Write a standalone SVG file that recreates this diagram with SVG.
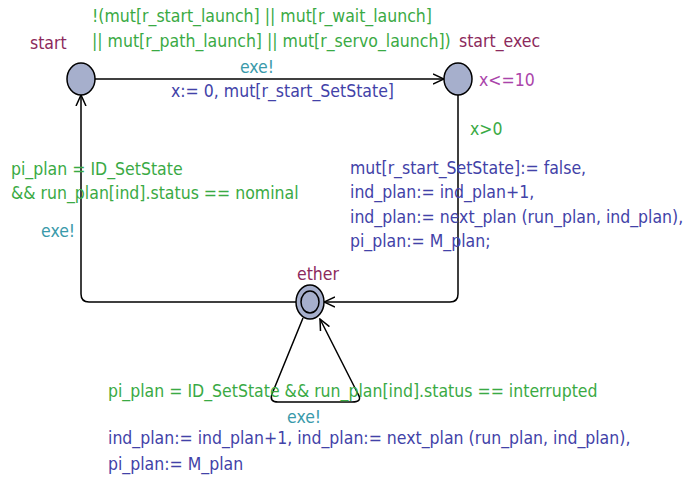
<svg xmlns="http://www.w3.org/2000/svg" width="688" height="482" viewBox="0 0 688 482">
<defs>
<marker id="arr" viewBox="0 0 12 12" refX="11" refY="6" markerWidth="12" markerHeight="12" markerUnits="userSpaceOnUse" orient="auto">
<path d="M0,1 L11,6 L0,11" fill="none" stroke="#000" stroke-width="1.5"/>
</marker>
<style>
text{font-family:"DejaVu Sans Condensed","DejaVu Sans",sans-serif;font-size:17.5px}
.loc{fill:#8c2a5c}
.grd{fill:#3aaa44}
.syn{fill:#3a9aaa}
.asg{fill:#4242a8}
.inv{fill:#aa44aa}
.node{fill:#a6afcc;stroke:#000;stroke-width:1.5}
.edge{fill:none;stroke:#000;stroke-width:1.5}
</style>
</defs>
<rect width="688" height="482" fill="#fff"/>
<g id="connectors">
<line class="edge" x1="95" y1="79" x2="444" y2="79" marker-end="url(#arr)"/>
<path class="edge" d="M458,95 L458,294 Q458,302 450,302 L324,302" marker-end="url(#arr)"/>
<path class="edge" d="M296,302 L89,302 Q81,302 81,294 L81,95" marker-end="url(#arr)"/>
<path class="edge" d="M303,318 L272,394 Q269,402 278,402 L352,402 Q363,402 358,394 L320,319" marker-end="url(#arr)"/>
</g>
<g id="node-start">
<ellipse class="node" cx="81" cy="79" rx="14" ry="16"/>
<text class="loc" x="30" y="49">start</text>
</g>
<g id="node-start_exec">
<ellipse class="node" cx="458" cy="79" rx="14" ry="16"/>
<text class="loc" x="459" y="47">start_exec</text>
<text class="inv" x="479" y="86">x&lt;=10</text>
</g>
<g id="node-ether">
<ellipse class="node" cx="310" cy="302" rx="14" ry="17"/>
<ellipse cx="310" cy="302" rx="9" ry="11" fill="none" stroke="#000" stroke-width="1.5"/>
<text class="loc" x="318" y="280" text-anchor="middle">ether</text>
</g>
<g id="labels">
<text class="grd" x="92" y="22">!(mut[r_start_launch] || mut[r_wait_launch]</text>
<text class="grd" x="92" y="47">|| mut[r_path_launch] || mut[r_servo_launch])</text>
<text class="syn" x="257" y="73" text-anchor="middle">exe!</text>
<text class="asg" x="171" y="97">x:= 0, mut[r_start_SetState]</text>
<text class="grd" x="470" y="135">x&gt;0</text>
<text class="asg" x="350" y="174">mut[r_start_SetState]:= false,</text>
<text class="asg" x="350" y="198">ind_plan:= ind_plan+1,</text>
<text class="asg" x="350" y="223">ind_plan:= next_plan (run_plan, ind_plan),</text>
<text class="asg" x="350" y="247">pi_plan:= M_plan;</text>
<text class="grd" x="11" y="175">pi_plan = ID_SetState</text>
<text class="grd" x="11" y="199">&amp;&amp; run_plan[ind].status == nominal</text>
<text class="syn" x="41" y="237">exe!</text>
<text class="grd" x="108" y="397">pi_plan = ID_SetState &amp;&amp; run_plan[ind].status == interrupted</text>
<text class="syn" x="287" y="423">exe!</text>
<text class="asg" x="108" y="444">ind_plan:= ind_plan+1, ind_plan:= next_plan (run_plan, ind_plan),</text>
<text class="asg" x="108" y="470">pi_plan:= M_plan</text>
</g>
</svg>
